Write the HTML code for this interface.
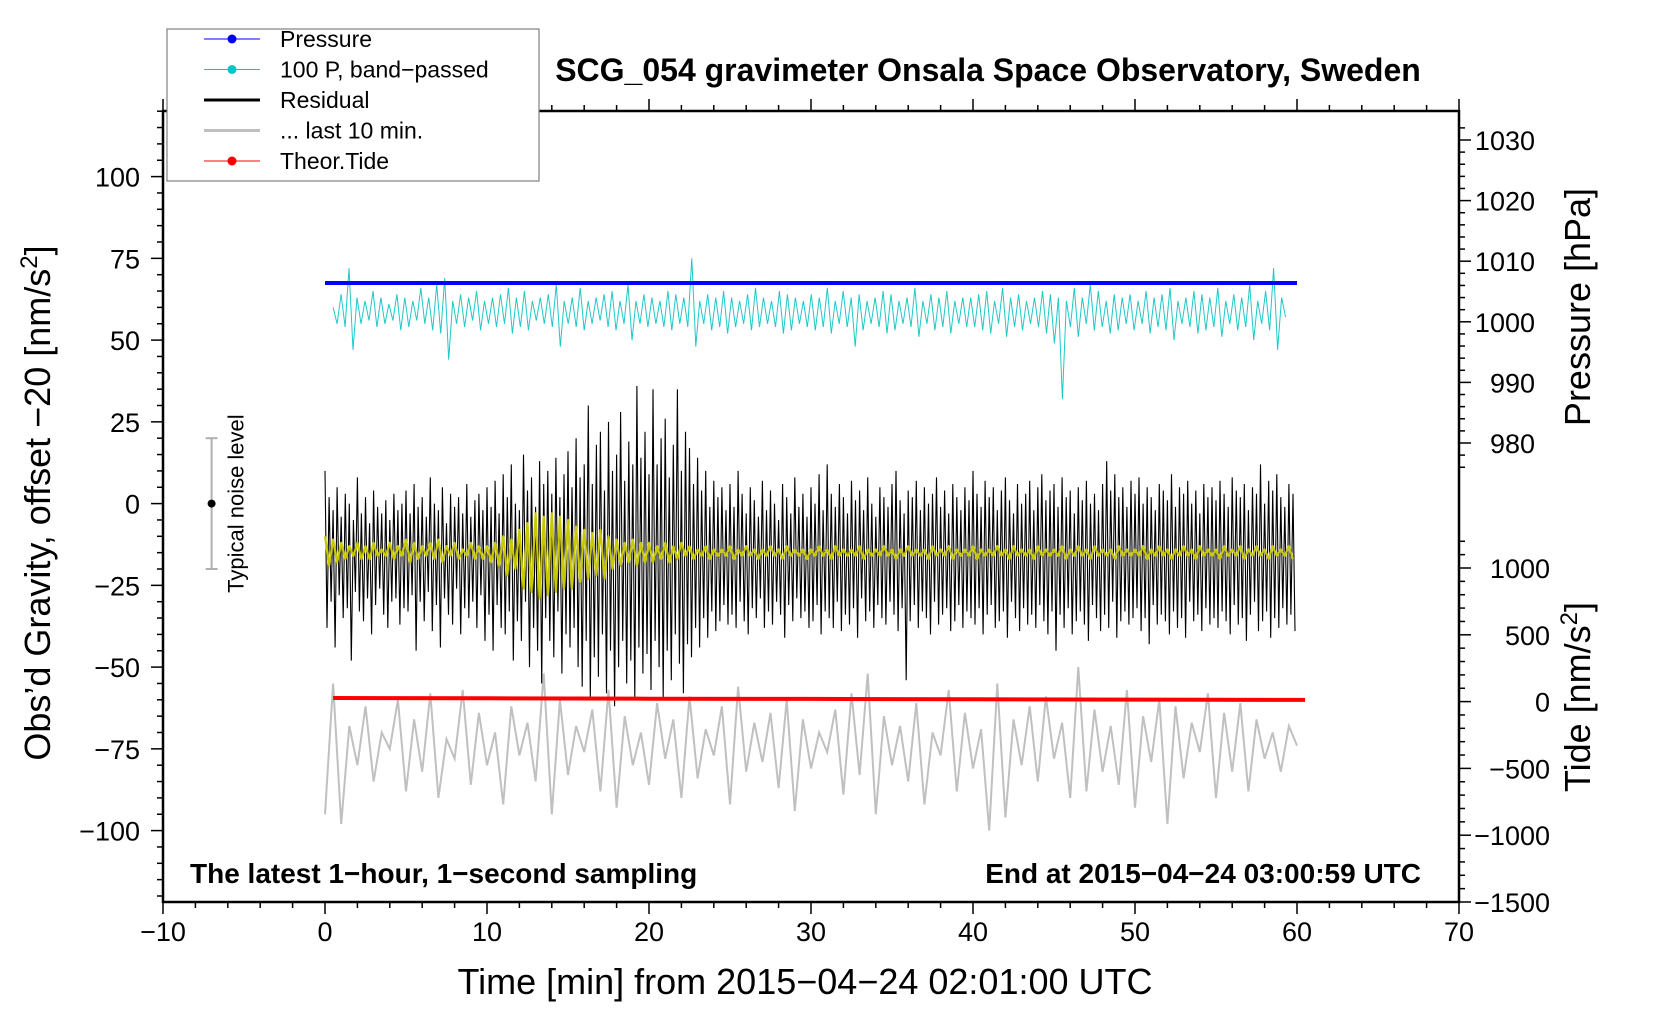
<!DOCTYPE html>
<html><head><meta charset="utf-8"><style>
body{margin:0;background:#fff;width:1660px;height:1020px;overflow:hidden}
svg{display:block;font-family:"Liberation Sans",sans-serif}
</style></head><body>
<svg id="chart" width="1660" height="1020" viewBox="0 0 1660 1020" xmlns="http://www.w3.org/2000/svg">
<g id="grid"></g>
<text x="988" y="81" text-anchor="middle" font-size="32" font-weight="bold">SCG_054 gravimeter Onsala Space Observatory, Sweden</text>
<text x="190" y="883" font-size="28" font-weight="bold">The latest 1−hour, 1−second sampling</text>
<text x="1421" y="883" text-anchor="end" font-size="28" font-weight="bold">End at 2015−04−24 03:00:59 UTC</text>
<text x="805" y="994" text-anchor="middle" font-size="36">Time [min] from 2015−04−24 02:01:00 UTC</text>
<text transform="translate(50,503) rotate(-90)" text-anchor="middle" font-size="36">Obs’d Gravity, offset −20 [nm/s<tspan font-size="24" dy="-13">2</tspan><tspan dy="13">]</tspan></text>
<text transform="translate(1590,307) rotate(-90)" text-anchor="middle" font-size="36">Pressure [hPa]</text>
<text transform="translate(1590,697) rotate(-90)" text-anchor="middle" font-size="36">Tide [nm/s<tspan font-size="24" dy="-13">2</tspan><tspan dy="13">]</tspan></text>
<g id="marks"></g>
<g id="axes"></g>
<g id="legend"></g>
</svg>
<script>
// ---- data ----
const xTicks = [-10,0,10,20,30,40,50,60,70];
const gravTicks = [-100,-75,-50,-25,0,25,50,75,100];
const pressTicks = [980,990,1000,1010,1020,1030];
const tideTicks = [-1500,-1000,-500,0,500,1000];
const pressTimes = [0,5,10,15,20,25,30,35,40,45,50,55,60];
const pressValues = [1006.4,1006.4,1006.4,1006.4,1006.4,1006.4,1006.4,1006.4,1006.4,1006.4,1006.4,1006.4,1006.4];
const tideTimes = [0.5,10,20,30,40,50,60.5];
const tideValues = [27,25,22,20,17,15,13];
const residualHi = [10,2,-2,5,-4,3,0,-5,8,-3,2,-6,4,-1,-3,1,-5,3,-2,0,
4,-3,6,-1,2,-4,8,0,-2,5,-6,3,-1,2,-3,6,-4,1,3,-2,
5,-1,7,-3,9,2,12,0,-2,15,4,8,-1,13,6,10,3,14,2,9,
16,5,20,8,12,30,6,18,22,4,25,10,15,28,7,19,12,36,14,22,
9,35,12,20,26,8,18,35,10,22,17,6,14,4,10,-1,7,2,5,-2,
6,-1,10,3,-3,5,1,-4,7,-2,4,0,-5,6,2,-3,8,-1,3,-4,
5,0,9,-2,12,3,-1,6,2,-3,7,1,4,-2,8,0,-4,5,2,-1,
6,10,1,-3,4,2,7,-2,5,0,3,8,-1,4,-3,6,2,-2,5,1,
10,3,-1,7,2,5,-2,4,8,1,-3,6,0,3,7,-2,5,9,1,4,
6,-1,8,2,4,-3,5,1,7,0,3,-2,6,13,4,9,2,5,-1,7,
3,8,0,5,2,-2,6,4,1,9,-1,5,3,7,0,4,-3,6,2,5,
1,7,3,-1,8,4,2,6,-2,5,3,12,0,7,4,9,2,-1,6,3];
const residualLo = [-38,-30,-44,-28,-35,-32,-48,-27,-33,-36,-29,-40,-31,-26,-34,-38,-30,-29,-37,-32,
-33,-28,-45,-30,-36,-27,-39,-31,-44,-29,-34,-37,-26,-40,-32,-35,-30,-38,-28,-42,
-34,-45,-31,-38,-40,-33,-48,-36,-42,-30,-50,-38,-45,-55,-35,-42,-47,-33,-52,-40,
-44,-38,-50,-56,-42,-60,-47,-53,-40,-58,-45,-62,-50,-42,-55,-48,-60,-44,-52,-46,
-57,-42,-50,-60,-45,-54,-40,-49,-58,-43,-47,-38,-44,-35,-41,-33,-39,-36,-31,-37,
-34,-38,-30,-36,-40,-32,-35,-29,-38,-33,-37,-30,-34,-41,-31,-36,-29,-35,-33,-38,
-36,-31,-40,-33,-35,-38,-30,-39,-34,-37,-32,-41,-29,-36,-33,-38,-31,-35,-37,-30,
-34,-39,-32,-54,-36,-31,-38,-33,-35,-40,-30,-37,-34,-32,-39,-36,-31,-38,-33,-35,
-37,-32,-40,-34,-31,-38,-36,-33,-41,-30,-35,-39,-32,-37,-34,-38,-31,-36,-40,-33,
-45,-34,-38,-32,-40,-36,-33,-37,-42,-31,-35,-39,-34,-38,-30,-41,-36,-33,-37,-35,
-32,-39,-35,-43,-31,-37,-34,-36,-40,-33,-38,-35,-41,-30,-36,-34,-39,-32,-37,-35,
-38,-33,-36,-40,-31,-37,-35,-42,-34,-30,-39,-36,-33,-41,-35,-38,-32,-37,-34,-39];
const yellowHi = [-10,-11,-12,-13,-12,-13,-12,-14,-12,-13,-11,-12,-13,-12,-11,-13,-12,-14,-12,-13,
-13,-12,-10,-11,-8,-6,-3,-4,-3,-4,-5,-7,-8,-9,-8,-10,-11,-12,-11,-12,
-12,-13,-12,-13,-12,-13,-14,-13,-14,-14,-13,-14,-13,-14,-14,-13,-14,-13,-14,-14,
-14,-13,-14,-13,-14,-14,-13,-14,-14,-13,-14,-14,-13,-14,-14,-13,-14,-13,-14,-14,
-13,-14,-14,-13,-14,-13,-14,-14,-13,-14,-14,-13,-14,-13,-14,-13,-14,-14,-13,-14,
-14,-13,-14,-13,-14,-14,-13,-14,-13,-14,-14,-13,-14,-13,-14,-13,-14,-13,-14,-13];
const yellowLo = [-19,-18,-17,-16,-17,-17,-16,-16,-17,-16,-18,-17,-16,-17,-18,-16,-17,-16,-17,-17,
-18,-19,-22,-20,-26,-27,-29,-28,-27,-26,-26,-24,-23,-22,-23,-20,-19,-18,-19,-18,
-18,-17,-18,-17,-16,-17,-16,-17,-16,-16,-17,-16,-16,-17,-16,-16,-17,-16,-16,-17,
-16,-16,-17,-16,-16,-16,-17,-16,-16,-16,-17,-16,-16,-16,-17,-16,-16,-17,-16,-16,
-17,-16,-16,-16,-17,-16,-16,-17,-16,-16,-16,-17,-16,-16,-17,-16,-16,-17,-16,-16,
-16,-17,-16,-16,-17,-16,-16,-17,-16,-16,-17,-16,-16,-17,-16,-16,-17,-16,-16,-17];
const cyanHi = [60,64,72,63,62,65,63,61,64,63,62,66,63,67,69,62,64,63,65,62,
63,64,66,63,65,62,63,64,67,62,63,66,62,63,64,65,62,67,62,64,
63,62,65,64,63,75,62,64,63,65,63,62,64,66,63,62,65,64,63,62,
64,63,66,62,65,63,64,62,63,65,64,62,63,66,62,64,63,65,62,63,
63,64,65,62,66,63,64,62,63,65,64,63,62,66,63,67,65,62,64,63,
64,62,65,63,64,66,62,63,65,64,63,66,62,64,63,67,62,65,72,63];
const cyanLo = [55,54,47,55,56,54,55,56,53,54,56,55,53,52,44,55,54,56,53,55,
54,55,52,54,53,56,55,54,48,55,54,53,55,56,54,53,55,50,55,54,
55,54,53,55,54,48,55,53,54,52,54,55,53,54,55,54,52,53,55,54,
53,54,52,55,54,48,53,55,54,52,53,55,54,51,55,53,54,52,55,54,
54,53,52,55,51,54,53,55,54,52,49,32,54,51,55,53,54,52,53,55,
53,55,52,54,53,50,55,54,52,53,54,51,55,53,54,50,55,53,47,57];
const grayValues = [-95,-55,-98,-68,-80,-62,-85,-70,-75,-60,-88,-66,-82,-58,-90,-72,-78,-57,-86,-64,
-80,-70,-92,-62,-77,-67,-85,-52,-95,-60,-83,-68,-76,-63,-88,-57,-93,-65,-80,-70,
-86,-61,-78,-66,-90,-59,-84,-69,-77,-62,-92,-56,-82,-67,-79,-64,-87,-60,-94,-66,
-81,-70,-76,-63,-89,-58,-83,-52,-95,-65,-80,-68,-85,-61,-92,-70,-77,-57,-88,-64,
-81,-69,-100,-55,-96,-66,-80,-62,-85,-59,-78,-67,-90,-50,-88,-63,-82,-68,-86,-57,
-93,-65,-79,-60,-98,-62,-84,-67,-76,-58,-90,-64,-82,-61,-88,-66,-78,-70,-82,-68,-74];
const legendLabels = ["Pressure","100 P, band−passed","Residual","... last 10 min.","Theor.Tide"];
const legendColors = ["#0000ff","#00c8c8","#000000","#c0c0c0","#ff0000"];

// ---- scales ----
const L=163,R=1459,T=111,B=902;
const xs = t => L + (t+10)*(R-L)/80;
const gy = v => 503.6 - v*3.27;
const py = p => 140 + (1030-p)*6.06;
const ty = v => 701.6 - v*0.1336;
const NS="http://www.w3.org/2000/svg";
function mk(tag, attrs, parent){const e=document.createElementNS(NS,tag);for(const k in attrs)e.setAttribute(k,attrs[k]);parent.appendChild(e);return e;}
const marks=document.getElementById('marks'), axes=document.getElementById('axes'), legend=document.getElementById('legend');

// gray last 10 min
let pts=grayValues.map((v,i)=>xs(i*0.5).toFixed(1)+','+gy(v).toFixed(1)).join(' ');
let e=mk('polyline',{points:pts,fill:'none',stroke:'#c0c0c0','stroke-width':2},marks);



// residual zigzag
let rp=[];
residualHi.forEach((v,i)=>{rp.push(xs(i*0.25).toFixed(1)+','+gy(v).toFixed(1));rp.push(xs(i*0.25+0.125).toFixed(1)+','+gy(residualLo[i]).toFixed(1));});
e=mk('polyline',{points:rp.join(' '),fill:'none',stroke:'#000','stroke-width':1.1},marks);



// yellow filtered
let yp=[];
yellowHi.forEach((v,i)=>{yp.push(xs(i*0.5).toFixed(1)+','+gy(v).toFixed(1));yp.push(xs(i*0.5+0.25).toFixed(1)+','+gy(yellowLo[i]).toFixed(1));});
e=mk('polyline',{points:yp.join(' '),fill:'none',stroke:'#c8c800','stroke-width':2.2,'stroke-linejoin':'round'},marks);



// cyan
let cp=[];
cyanHi.forEach((v,i)=>{cp.push(xs(0.5+i*0.492).toFixed(1)+','+gy(v).toFixed(1));cp.push(xs(0.5+i*0.492+0.246).toFixed(1)+','+gy(cyanLo[i]).toFixed(1));});
e=mk('polyline',{points:cp.join(' '),fill:'none',stroke:'#20c8c8','stroke-width':1},marks);



// pressure
e=mk('polyline',{points:pressValues.map((p,i)=>xs(pressTimes[i]).toFixed(1)+','+py(p).toFixed(1)).join(' '),fill:'none',stroke:'#0000ff','stroke-width':4},marks);



// tide
e=mk('polyline',{points:tideValues.map((v,i)=>xs(tideTimes[i]).toFixed(1)+','+ty(v).toFixed(1)).join(' '),fill:'none',stroke:'#ff0000','stroke-width':4},marks);



// noise bar
const nx=xs(-7);
e=mk('g',{},marks);


mk('line',{x1:nx,x2:nx,y1:gy(20),y2:gy(-20),stroke:'#b0b0b0','stroke-width':2},e);
mk('line',{x1:nx-6,x2:nx+6,y1:gy(20),y2:gy(20),stroke:'#b0b0b0','stroke-width':2},e);
mk('line',{x1:nx-6,x2:nx+6,y1:gy(-20),y2:gy(-20),stroke:'#b0b0b0','stroke-width':2},e);
mk('circle',{cx:nx,cy:gy(0),r:4,fill:'#000'},e);
let nt=mk('text',{transform:`translate(${nx+32},${gy(0)}) rotate(-90)`,'text-anchor':'middle','font-size':22},e);
nt.textContent='Typical noise level';

// frame
e=mk('rect',{x:L,y:T,width:R-L,height:B-T,fill:'none',stroke:'#000','stroke-width':2.5},axes);


// x ticks
for(let t=-10;t<=70;t+=2){const M=t%10===0;mk('line',{x1:xs(t),x2:xs(t),y1:B,y2:B+(M?12:6),stroke:'#000','stroke-width':1.5},axes);mk('line',{x1:xs(t),x2:xs(t),y1:T,y2:T-(M?12:6),stroke:'#000','stroke-width':1.5},axes);}
xTicks.forEach(t=>{const tx=mk('text',{x:xs(t),y:941,'text-anchor':'middle','font-size':27},axes);tx.textContent=String(t).replace('-','−');

});
// left ticks
for(let v=-120;v<=120;v+=5){const M=v%25===0;mk('line',{x1:L,x2:L-(M?12:6),y1:gy(v),y2:gy(v),stroke:'#000','stroke-width':1.5},axes);}
gravTicks.forEach(v=>{const tx=mk('text',{x:140,y:gy(v)+10,'text-anchor':'end','font-size':27},axes);tx.textContent=String(v).replace('-','−');

});
// right pressure ticks
for(let p=976;p<=1032;p+=2){const M=p%10===0;mk('line',{x1:R,x2:R+(M?12:6),y1:py(p),y2:py(p),stroke:'#000','stroke-width':1.5},axes);}
pressTicks.forEach(p=>{const tx=mk('text',{x:1535,y:py(p)+10,'text-anchor':'end','font-size':27},axes);tx.textContent=p;

});
// right tide ticks
for(let v=-1500;v<=1200;v+=100){const M=v%500===0;mk('line',{x1:R,x2:R+(M?12:6),y1:ty(v),y2:ty(v),stroke:'#000','stroke-width':1.5},axes);}
tideTicks.forEach(v=>{const tx=mk('text',{x:1550,y:ty(v)+10,'text-anchor':'end','font-size':27},axes);tx.textContent=String(v).replace('-','−');

});

// legend
let lb=mk('rect',{x:167,y:29,width:372,height:152,fill:'#fff',stroke:'#808080','stroke-width':1.2},legend);


legendLabels.forEach((lab,i)=>{const y=39+i*30.5;const g=mk('g',{},legend);


const thick=(i===2||i===3);
mk('line',{x1:204,x2:260,y1:y,y2:y,stroke:legendColors[i],'stroke-width':thick?3:1},g);
if(!thick)mk('circle',{cx:232,cy:y,r:4.5,fill:legendColors[i]},g);
const t=mk('text',{x:280,y:y+8,'font-size':23},g);t.textContent=lab;});
</script>
</body></html>
